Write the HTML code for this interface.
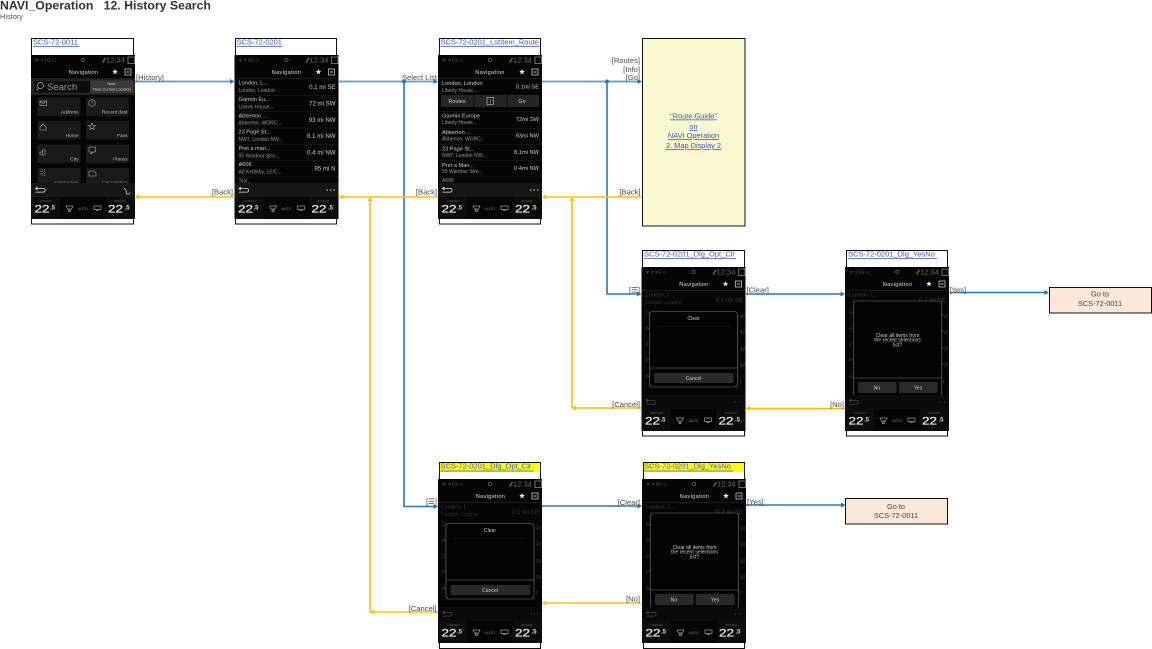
<!DOCTYPE html>
<html><head><meta charset="utf-8"><style>
html,body{margin:0;padding:0;background:#fff;width:1152px;height:649px;overflow:hidden}
svg{display:block;font-family:"Liberation Sans",Arial,sans-serif}
.lb{font-size:7.6px;fill:#4c4c4c}
.e{text-anchor:end}
.ti{font-size:7.5px;fill:#3a5fb5}
.nv{font-size:5.6px;fill:#ddd;text-anchor:middle;letter-spacing:.3px}
.tm{font-size:7.6px;fill:#666}
.st{font-size:4.6px;fill:#666}
.t1{font-size:5.6px;fill:#ccc}
.t2{font-size:5px;fill:#999}
.d{font-size:6.1px;fill:#ccc;text-anchor:end}
.d3{font-size:5.7px;fill:#ccc;text-anchor:end}
.dim1{font-size:5.6px;fill:#3c3c3c}
.dim2{font-size:5px;fill:#333}
.dimd{font-size:6.2px;fill:#3c3c3c;text-anchor:end}
.num{font-size:11px;fill:#e4e4e4;stroke:#e4e4e4;stroke-width:.25}
.sup{font-size:6px;font-weight:bold;fill:#ddd}
.au{font-size:3.5px;fill:#888;text-anchor:middle}
.dl{font-size:5.1px;fill:#ccc;text-anchor:middle}
.ct{font-size:4.8px;fill:#bbb;text-anchor:end}
.mid{text-anchor:middle}
.bl{stroke:#2e75b6;stroke-width:1.6;fill:none}
.bll{stroke:#5b9bd5;stroke-width:1.7;fill:none}
.or{stroke:#ffc000;stroke-width:1.6;fill:none}
</style></head><body>
<svg width="1152" height="649" viewBox="0 0 1152 649" xmlns="http://www.w3.org/2000/svg">
<defs>
<g id="chrome">
<rect width="104" height="164" fill="#050505"/>
<rect y="23" width="104" height=".8" fill="#2a1e18"/>
<circle cx="52" cy="5" r="1.6" fill="none" stroke="#777" stroke-width=".6"/>
<path d="M71.500 7.500l3-4.500" stroke="#3c8a3c" stroke-width="1.4"/>
<rect x="97" y="2" width="6.500" height="6.500" fill="none" stroke="#999" stroke-width=".7"/>
<rect x="94" y="14" width="6" height="6" fill="none" stroke="#ddd" stroke-width=".7"/>
<path d="M95.500 17h3" stroke="#ddd" stroke-width=".9"/>
<path d="M84 14l.8 1.900 2 .1-1.600 1.200.6 2-1.800-1.100-1.800 1.100.6-2-1.600-1.200 2-.1z" fill="#eee"/>
</g>
<g id="clim">
<rect y="142" width="104" height="22" fill="#050505"/>
<rect x="0" y="142" width="29" height="22" fill="#0c0c0c"/>
<rect x="75" y="142" width="29" height="22" fill="#0c0c0c"/>
<rect x="9" y="145.500" width="12" height="1" fill="#444"/>
<rect x="83" y="145.500" width="12" height="1" fill="#444"/>
<path d="M35 151h7l-1.500 3h-4zM37.500 155h2v1.500h-2z" fill="none" stroke="#999" stroke-width=".7"/>
<path d="M63 151h7v3.500h-7zM65 155.500h3" fill="none" stroke="#999" stroke-width=".7"/>
</g>
<g id="foot"><rect y="128" width="104" height="14" fill="#161616"/>
<path d="M5 133.500h7.500q1.500 0 1.500 1.800t-1.500 1.800h-8M6.500 132l-2 1.500 2 1.500" fill="none" stroke="#ddd" stroke-width=".8"/></g>
<g id="footd"><rect y="128" width="104" height="14" fill="#0a0a0a"/>
<path d="M5 133.500h7.500q1.500 0 1.500 1.800t-1.500 1.800h-8M6.500 132l-2 1.500 2 1.500" fill="none" stroke="#444" stroke-width=".8"/>
<path d="M93 135h1M96 135h1M99 135h1" stroke="#333"/></g>
<g id="dots"><path d="M92 135h1.500M95.500 135h1.500M99 135h1.500" stroke="#ddd"/></g>
<g id="seps"><path d="M0 40.500h104M0 56.500h104M0 73h104M0 89.500h104M0 105.500h104M0 122h104" stroke="#222" stroke-width=".6"/></g>
<g id="tile"><rect width="43" height="18.500" rx="1.500" fill="#1a1a1a"/></g>
<g id="dlgc"><rect x="8" y="44.500" width="88" height="75.500" rx="3" fill="#030303" stroke="#777" stroke-width=".6"/>
<path d="M16 59.500h72" stroke="#222" stroke-width=".6"/><path d="M8 101h88" stroke="#777" stroke-width=".6"/>
<rect x="12.700" y="106" width="79.300" height="10" rx="1" fill="#2a2a2a"/></g>
<g id="dlgy"><rect x="8.300" y="34" width="88.400" height="96.300" rx="3" fill="#030303" stroke="#777" stroke-width=".6"/>
<path d="M8.300 111h88.400" stroke="#777" stroke-width=".6"/>
<rect x="13" y="115" width="38.700" height="11" rx="1" fill="#2a2a2a"/><rect x="53.700" y="115" width="39" height="11" rx="1" fill="#2a2a2a"/></g>
</defs>
<rect width="1152" height="649" fill="#fff"/>

<text x="0" y="9.500" font-size="12.300" font-weight="bold" fill="#333" xml:space="preserve">NAVI_Operation   12. History Search</text>
<text x="0" y="19" font-size="7.400" fill="#555">History</text>

<!-- frames -->
<g fill="#fff" stroke="#111" stroke-width="1">
<rect x="31.500" y="38.500" width="102" height="185.500"/>
<rect x="235.500" y="38.500" width="101" height="185.500"/>
<rect x="439.500" y="38.500" width="101" height="185.500"/>
<rect x="642.500" y="250.500" width="102" height="185.500"/>
<rect x="846.500" y="250.500" width="101" height="185.500"/>
<rect x="439.500" y="462.500" width="101" height="186"/>
<rect x="643.500" y="462.500" width="101" height="186"/>
</g>
<rect x="440" y="463" width="100" height="9" fill="#ffff00"/>
<rect x="644" y="463" width="100" height="9" fill="#ffff00"/>

<!-- titles -->
<g class="ti">
<text x="33" y="44.500">SCS-72-0011</text>
<text x="236.500" y="44.500">SCS-72-0201</text>
<text x="440.500" y="44.500">SCS-72-0201_LstItem_Route</text>
<text x="644" y="256.500">SCS-72-0201_Dlg_Opt_Clr</text>
<text x="848" y="256.500">SCS-72-0201_Dlg_YesNo</text>
<text x="440.500" y="468.500">SCS-72-0201_Dlg_Opt_Clr</text>
<text x="644" y="468.500">SCS-72-0201_Dlg_YesNo</text>
</g>
<g stroke="#3a5fb5" stroke-width=".8">
<path d="M33 46.500h46M236.500 46.500h46M440.500 46.500h100M644 258.500h92M848 258.500h89M440.500 471h93M644 471h89"/>
</g>

<!-- Screen 1 -->
<g transform="translate(31,55)">
<use href="#chrome"/>
<text class="st" x="4" y="6.500">ᯤ 4 1G   ◁</text>
<text class="tm" x="75" y="7.500">12:34</text>
<text class="nv" x="52.500" y="19">Navigation</text>
<rect x="0" y="24" width="104" height="16" fill="#222"/>
<rect x="2.500" y="25.500" width="57" height="12.500" rx="1" fill="#0c0c0c" stroke="#333" stroke-width=".5"/>
<rect x="59.500" y="25.500" width="43" height="12.500" fill="#3a3a3a"/>
<circle cx="9.500" cy="30.500" r="3" fill="none" stroke="#bbb" stroke-width=".7"/><path d="M7.500 33l-2 2.500" stroke="#bbb" stroke-width=".7"/>
<text x="16" y="35" font-size="9.500" fill="#999">Search</text>
<text class="mid" x="81" y="30" font-size="3.800" fill="#ccc">Near:</text>
<text class="mid" x="81" y="35.500" font-size="3.800" fill="#ccc">Near Current Location</text>
<use href="#tile" x="6.500" y="42.500"/><use href="#tile" x="55" y="42.500"/>
<use href="#tile" x="6.500" y="66"/><use href="#tile" x="55" y="66"/>
<use href="#tile" x="6.500" y="89.500"/><use href="#tile" x="55" y="89.500"/>
<use href="#tile" x="6.500" y="113"/><use href="#tile" x="55" y="113"/>
<g fill="none" stroke="#aaa" stroke-width=".6">
<rect x="9" y="46" width="6.500" height="4.500"/><path d="M9 46l3.200 2.500 3.300-2.500"/>
<circle cx="61" cy="48" r="3.300"/><path d="M61 46v2h1.500"/>
<path d="M9 72l3-3 3 3v3h-6z"/>
<path d="M61 68l1 2.300 2.500.2-2 1.500.7 2.500-2.200-1.300-2.200 1.300.7-2.500-2-1.500 2.500-.2z"/>
<path d="M9 100v-3h2.500v3zM11.500 100v-5h2.500v5z"/>
<rect x="58" y="92" width="6.500" height="5"/><path d="M60 97v2l2-2"/>
<path d="M9 116h6M9 119h6M11 114v7M13.500 114v7" stroke-dasharray="1 1"/>
<path d="M58 116h5l2 2v3h-7z"/>
</g>
<g class="ct">
<text x="47.500" y="58.700">Address</text><text x="96.500" y="58.700">Recent dest</text>
<text x="47.500" y="82">Home</text><text x="96.500" y="82">Favs</text>
<text x="47.500" y="105.700">City</text><text x="96.500" y="105.700">Places</text>
<text x="47.500" y="129" fill="#777">Intersection</text><text x="96.500" y="129" fill="#777">Car position</text>
</g>
<use href="#foot"/>
<path d="M93 133l2 2M96 135.500a2 2 0 1 0 3 2" fill="none" stroke="#ccc" stroke-width=".8"/>
<use href="#clim"/>
<text class="num" x="3.500" y="157.300" textLength="15" lengthAdjust="spacingAndGlyphs">22</text><text class="sup" x="19" y="154.300">.5</text>
<text class="au" x="52" y="155">AUTO</text>
<text class="num" x="77" y="157.300" textLength="15" lengthAdjust="spacingAndGlyphs">22</text><text class="sup" x="93.500" y="154.300">.5</text>
</g>

<!-- Screen 2 -->
<g transform="translate(234.500,55)">
<use href="#chrome"/>
<text class="st" x="4" y="6.500">ᯤ 4 1G   ◁</text>
<text class="tm" x="75" y="7.500">12:34</text>
<text class="nv" x="52" y="19">Navigation</text>
<use href="#seps"/>
<text class="t1" x="4" y="29.700">London, L...</text><text class="t2" x="4" y="37">London, London</text><text class="d" x="101" y="34.200">0.1 mi SE</text>
<text class="t1" x="4" y="46">Garmin Eu...</text><text class="t2" x="4" y="53.300">Liberty House...</text><text class="d" x="101" y="50.500">72 mi SW</text>
<text class="t1" x="4" y="62.300">Abberton ...</text><text class="t2" x="4" y="69.600">Abberton, WORC...</text><text class="d" x="101" y="67">93 mi NW</text>
<text class="t1" x="4" y="78.600">23 Page St...</text><text class="t2" x="4" y="86">NW7, London NW...</text><text class="d" x="101" y="83">8.1 mi NW</text>
<text class="t1" x="4" y="95">Pret a man...</text><text class="t2" x="4" y="102.300">55 Wardour Stre...</text><text class="d" x="101" y="99.500">0.4 mi NW</text>
<text class="t1" x="4" y="111">A606</text><text class="t2" x="4" y="118.600">Ab Kettleby, LEIC...</text><text class="d" x="101" y="115.500">95 mi  N</text>
<text class="t2" x="4" y="127.500" fill="#666">Tesl...</text>
<use href="#foot"/><use href="#dots"/>
<use href="#clim"/>
<text class="num" x="3.500" y="157.300" textLength="15" lengthAdjust="spacingAndGlyphs">22</text><text class="sup" x="19" y="154.300">.5</text>
<text class="au" x="52" y="155">AUTO</text>
<text class="num" x="77" y="157.300" textLength="15" lengthAdjust="spacingAndGlyphs">22</text><text class="sup" x="93.500" y="154.300">.5</text>
</g>

<!-- Screen 3 -->
<g transform="translate(438,55)">
<use href="#chrome"/>
<text class="st" x="4" y="6.500">ᯤ 4 1G   ◁</text>
<text class="tm" x="75" y="7.500">12:34</text>
<text class="nv" x="52" y="19">Navigation</text>
<rect x="3" y="40" width="98" height="12" rx="1" fill="#252525"/>
<path d="M36 40v12M69 40v12" stroke="#0a0a0a"/>
<rect x="49" y="42.500" width="6.500" height="7" fill="none" stroke="#ccc" stroke-width=".6"/>
<text class="mid" x="52.200" y="48" font-size="5" fill="#ccc">i</text>
<text class="mid" x="19" y="48" font-size="5.400" fill="#ccc">Routes</text>
<text class="mid" x="84" y="48" font-size="5.400" fill="#ccc">Go</text>
<path d="M0 73.500h104M0 89.500h104M0 105.500h104M0 122h104M0 56.500h104" stroke="#222" stroke-width=".6"/>
<text class="t1" x="4" y="30">London, London</text><text class="t2" x="4" y="37">Liberty House...</text><text class="d3" x="101" y="33.500">0.1mi SE</text>
<text class="t1" x="4" y="62.700">Garmin Europe</text><text class="t2" x="4" y="69">Liberty House...</text><text class="d3" x="101" y="66">72mi SW</text>
<text class="t1" x="4" y="79">Abberton ...</text><text class="t2" x="4" y="85.500">Abberton, WORC...</text><text class="d3" x="101" y="82.500">93mi NW</text>
<text class="t1" x="4" y="95.500">23 Page St...</text><text class="t2" x="4" y="102">NW7, London NW...</text><text class="d3" x="101" y="99">8.1mi NW</text>
<text class="t1" x="4" y="112">Pret a Man...</text><text class="t2" x="4" y="118">55 Wardour Stre...</text><text class="d3" x="101" y="115">0.4mi NW</text>
<text class="t2" x="4" y="127">A606</text>
<use href="#foot"/><use href="#dots"/>
<use href="#clim"/>
<text class="num" x="3.500" y="157.300" textLength="15" lengthAdjust="spacingAndGlyphs">22</text><text class="sup" x="19" y="154.300">.5</text>
<text class="au" x="52" y="155">AUTO</text>
<text class="num" x="77" y="157.300" textLength="15" lengthAdjust="spacingAndGlyphs">22</text><text class="sup" x="93.500" y="154.300">.5</text>
</g>

<!-- Screen 4 -->
<g transform="translate(641.500,267)">
<use href="#chrome"/>
<text class="st" x="4" y="6.500">ᯤ 4 1G   ◁</text>
<text class="tm" x="75" y="7.500">12:34</text>
<text class="nv" x="52.500" y="19">Navigation</text>
<text class="dim1" x="4" y="29.700">London, L...</text><text class="dim2" x="4" y="37">London, London</text><text class="dimd" x="101" y="35">0.1 mi SE</text>
<text class="dim1" x="4" y="47">G</text><text class="dim1" x="4" y="63">A</text><text class="dim1" x="4" y="79">2</text><text class="dim1" x="4" y="95">P</text><text class="dim1" x="4" y="111">A</text>
<text class="dim1" x="98" y="51">W</text><text class="dim1" x="98" y="67">W</text><text class="dim1" x="98" y="84">W</text><text class="dim1" x="98" y="100">W</text><text class="dim1" x="98" y="116">I</text>
<use href="#dlgc"/>
<text class="dl" x="52" y="53">Clear</text><text class="dl" x="52" y="112.800">Cancel</text>
<use href="#footd"/>
<use href="#clim"/>
<text class="num" x="3.500" y="157.300" textLength="15" lengthAdjust="spacingAndGlyphs">22</text><text class="sup" x="19" y="154.300">.5</text>
<text class="au" x="52" y="155">AUTO</text>
<text class="num" x="77" y="157.300" textLength="15" lengthAdjust="spacingAndGlyphs">22</text><text class="sup" x="93.500" y="154.300">.5</text>
</g>

<!-- Screen 5 -->
<g transform="translate(845,267)">
<use href="#chrome"/>
<text class="st" x="4" y="6.500">ᯤ 4 1G   ◁</text>
<text class="tm" x="75" y="7.500">12:34</text>
<text class="nv" x="52.500" y="19">Navigation</text>
<text class="dim1" x="4" y="29.700">London, L...</text><text class="dimd" x="101" y="35">0.1 mi SE</text>
<text class="dim1" x="4" y="47">G</text><text class="dim1" x="4" y="63">A</text><text class="dim1" x="4" y="79">2</text><text class="dim1" x="4" y="95">P</text><text class="dim1" x="4" y="111">A</text>
<text class="dim1" x="98" y="51">W</text><text class="dim1" x="98" y="67">W</text><text class="dim1" x="98" y="84">W</text><text class="dim1" x="98" y="100">W</text><text class="dim1" x="98" y="116">I</text>
<use href="#dlgy"/>
<text class="dl" x="52.500" y="69.800">Clear all items from</text><text class="dl" x="52.500" y="74.700">the recent selections</text><text class="dl" x="52.500" y="79.300">list?</text>
<text class="dl" x="32" y="122.300">No</text><text class="dl" x="73" y="122.300">Yes</text>
<use href="#footd"/>
<use href="#clim"/>
<text class="num" x="3.500" y="157.300" textLength="15" lengthAdjust="spacingAndGlyphs">22</text><text class="sup" x="19" y="154.300">.5</text>
<text class="au" x="52" y="155">AUTO</text>
<text class="num" x="77" y="157.300" textLength="15" lengthAdjust="spacingAndGlyphs">22</text><text class="sup" x="93.500" y="154.300">.5</text>
</g>

<!-- Screen 6 -->
<g transform="translate(438,479)">
<use href="#chrome"/>
<text class="st" x="4" y="6.500">ᯤ 4 1G   ◁</text>
<text class="tm" x="75" y="7.500">12:34</text>
<text class="nv" x="52.500" y="19">Navigation</text>
<text class="dim1" x="4" y="29.700">London, L...</text><text class="dim2" x="4" y="37">London, London</text><text class="dimd" x="101" y="35">0.1 mi SE</text>
<text class="dim1" x="4" y="47">G</text><text class="dim1" x="4" y="63">A</text><text class="dim1" x="4" y="79">2</text><text class="dim1" x="4" y="95">P</text><text class="dim1" x="4" y="111">A</text>
<text class="dim1" x="98" y="51">W</text><text class="dim1" x="98" y="67">W</text><text class="dim1" x="98" y="84">W</text><text class="dim1" x="98" y="100">W</text><text class="dim1" x="98" y="116">I</text>
<use href="#dlgc"/>
<text class="dl" x="52" y="53">Clear</text><text class="dl" x="52" y="112.800">Cancel</text>
<use href="#footd"/>
<use href="#clim"/>
<text class="num" x="3.500" y="157.300" textLength="15" lengthAdjust="spacingAndGlyphs">22</text><text class="sup" x="19" y="154.300">.5</text>
<text class="au" x="52" y="155">AUTO</text>
<text class="num" x="77" y="157.300" textLength="15" lengthAdjust="spacingAndGlyphs">22</text><text class="sup" x="93.500" y="154.300">.5</text>
</g>

<!-- Screen 7 -->
<g transform="translate(642,479)">
<use href="#chrome"/>
<text class="st" x="4" y="6.500">ᯤ 4 1G   ◁</text>
<text class="tm" x="75" y="7.500">12:34</text>
<text class="nv" x="52.500" y="19">Navigation</text>
<text class="dim1" x="4" y="29.700">London, L...</text><text class="dimd" x="101" y="35">0.1 mi SE</text>
<text class="dim1" x="4" y="47">G</text><text class="dim1" x="4" y="63">A</text><text class="dim1" x="4" y="79">2</text><text class="dim1" x="4" y="95">P</text><text class="dim1" x="4" y="111">A</text>
<text class="dim1" x="98" y="51">W</text><text class="dim1" x="98" y="67">W</text><text class="dim1" x="98" y="84">W</text><text class="dim1" x="98" y="100">W</text><text class="dim1" x="98" y="116">I</text>
<use href="#dlgy"/>
<text class="dl" x="52.500" y="69.800">Clear all items from</text><text class="dl" x="52.500" y="74.700">the recent selections</text><text class="dl" x="52.500" y="79.300">list?</text>
<text class="dl" x="32" y="122.300">No</text><text class="dl" x="73" y="122.300">Yes</text>
<use href="#footd"/>
<use href="#clim"/>
<text class="num" x="3.500" y="157.300" textLength="15" lengthAdjust="spacingAndGlyphs">22</text><text class="sup" x="19" y="154.300">.5</text>
<text class="au" x="52" y="155">AUTO</text>
<text class="num" x="77" y="157.300" textLength="15" lengthAdjust="spacingAndGlyphs">22</text><text class="sup" x="93.500" y="154.300">.5</text>
</g>

<!-- Yellow note -->
<rect x="642.500" y="38.500" width="102.500" height="187.500" fill="#faf8d0" stroke="#111" stroke-width="1"/>
<g font-size="7.400" fill="#2f5cb5" text-anchor="middle" text-decoration="underline">
<text x="693.500" y="118.500">"Route Guide"</text>
<text x="693.500" y="129">on</text>
<text x="693.500" y="138">NAVI Operation</text>
<text x="693.500" y="148">2. Map Display 2</text>
</g>

<!-- Go to boxes -->
<g fill="#fce8d9" stroke="#111" stroke-width="1">
<rect x="1049.500" y="287.500" width="102" height="25.500"/>
<rect x="845.500" y="498.500" width="102" height="25.500"/>
</g>
<g font-size="7.400" fill="#444" text-anchor="middle">
<text x="1100" y="296.500">Go to</text><text x="1100" y="306">SCS-72-0011</text>
<text x="896" y="509">Go to</text><text x="896" y="518">SCS-72-0011</text>
</g>

<!-- Blue connectors -->
<path class="bll" d="M135 81.500h97M339 81.500h96M542 81.500h97"/>
<path class="bl" d="M404 81.500V506.500H435M607 81.500V294H639M746 294H843M950 292.500H1045M542 506H639M746 505H843"/>
<g fill="#2e75b6">
<path d="M234.500 81.500l-4.500-2.500v5zM438 81.500l-4.500-2.500v5zM642 81.500l-4.500-2.500v5zM641.500 294l-4.500-2.500v5zM845 294l-4.500-2.500v5zM1049 292.500l-4.500-2.500v5zM438 506.500l-4.500-2.500v5zM642 506l-4.500-2.500v5zM845.500 505l-4.500-2.500v5z"/>
<circle cx="404" cy="81.500" r="2"/><circle cx="607" cy="81.500" r="2"/>
</g>

<!-- Orange connectors -->
<path class="or" d="M234 197H137M438 197H341M642 197H544M370 612V199M438 612H372M572 408V199M641 408H574M845 408.500H748M641 603H544"/>
<g fill="#ffc000">
<path d="M134.500 197l4.500-2.500v5zM338.500 197l4.500-2.500v5zM541.500 197l4.500-2.500v5zM370 196.500l-2.500 4.500h5zM572 196.500l-2.500 4.500h5zM369.500 612l4.500-2.500v5zM571.500 408l4.500-2.500v5zM745.500 408.500l4.500-2.500v5zM541.500 603l4.500-2.500v5z"/>
</g>

<!-- Labels -->
<g class="lb">
<text x="136" y="80">[History]</text>
<text class="e" x="233" y="194.500">[Back]</text>
<text class="e" x="437" y="194.500">[Back]</text>
<text class="e" x="640.500" y="194.500">[Back]</text>
<text class="e" x="437" y="80">Select List</text>
<text class="e" x="640" y="63">[Routes]</text>
<text class="e" x="640" y="72">[Info]</text>
<text class="e" x="640" y="80">[Go]</text>
<text class="e" x="640" y="292.500" font-family="'Liberation Sans','DejaVu Sans',sans-serif">[☰]</text>
<text x="746.500" y="292.500">[Clear]</text>
<text x="949.500" y="292.500">[Yes]</text>
<text class="e" x="640" y="407">[Cancel]</text>
<text class="e" x="844" y="407">[No]</text>
<text class="e" x="437" y="504" font-family="'Liberation Sans','DejaVu Sans',sans-serif">[☰]</text>
<text class="e" x="436.500" y="611">[Cancel]</text>
<text class="e" x="640" y="505">[Clear]</text>
<text class="e" x="640" y="601.500">[No]</text>
<text x="747" y="504.500">[Yes]</text>
</g>
</svg>
</body></html>
